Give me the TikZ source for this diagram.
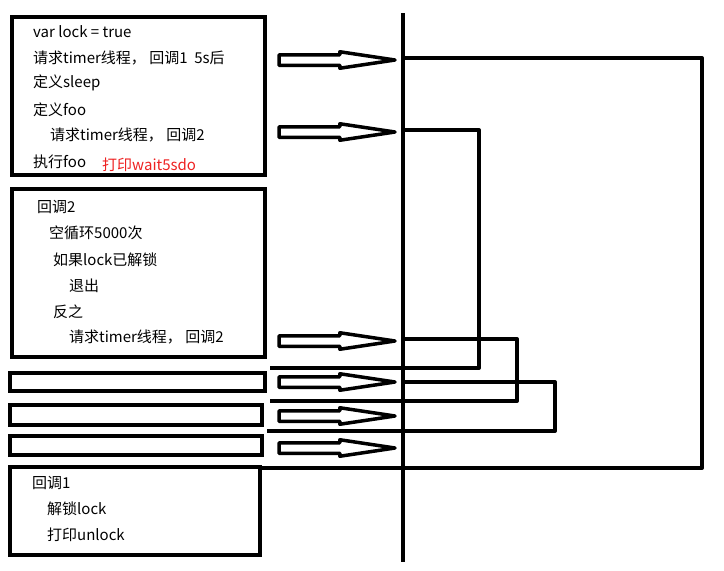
\documentclass[tikz,border=0pt]{standalone}
\usepackage{fontspec}
\setmainfont{Noto Sans CJK SC}
\usepackage{xcolor}
\usepackage{tikz}
\usetikzlibrary{shapes.arrows}
\definecolor{printred}{RGB}{238,34,34}

\begin{document}
\begin{tikzpicture}[x=1pt, y=-1pt, every node/.style={font=\fontsize{15}{17}\selectfont},
    box/.style={draw, line width=4.5pt, outer sep=0pt, inner sep=0pt, anchor=north west},
    txt/.style={anchor=west, inner sep=0pt},
    req/.style={single arrow, draw, fill=white, line width=3.5pt, line join=round, anchor=tail,
        outer sep=0pt, inner xsep=0pt, inner ysep=3.5pt, minimum height=116pt,
        single arrow head extend=3pt, single arrow tip angle=17},
    wire/.style={line width=4pt, line join=round}]
            \useasboundingbox (0,0) rectangle (724,571);

            % Main script
            \node[box, minimum width=253pt, minimum height=158pt] (main) at (12,17) {};
            \node[txt] (m1) at (33,32) {var lock = true};
            \node[txt] (m2) at (33,58) {请求timer线程， 回调1 \ 5s后};
            \node[txt] (m3) at (33,83) {定义sleep};
            \node[txt] (m4) at (33,110) {定义foo};
            \node[txt] (m5) at (50,135) {请求timer线程， 回调2};
            \node[txt] (m6) at (33,162) {执行foo};
            \node[txt, text=printred] (m7) at (102,165) {打印wait5sdo};

            % Callback 2
            \node[box, minimum width=253pt, minimum height=168pt] (cbtwo) at (12,189) {};
            \node[txt] (c1) at (37,207) {回调2};
            \node[txt] (c2) at (49,233) {空循环5000次};
            \node[txt] (c3) at (53,260) {如果lock已解锁};
            \node[txt] (c4) at (69,286) {退出};
            \node[txt] (c5) at (53,312) {反之};
            \node[txt] (c6) at (69,337) {请求timer线程， 回调2};

            % Repeated runs of callback 2
            \node[box, minimum width=255pt, minimum height=18pt] (runa) at (10,373) {};
            \node[box, minimum width=252pt, minimum height=20pt] (runb) at (10,405) {};
            \node[box, minimum width=252pt, minimum height=19pt] (runc) at (10,436) {};

            % Callback 1
            \node[box, minimum width=250pt, minimum height=88pt] (cbone) at (10,467) {};
            \node[txt] (d1) at (32,483) {回调1};
            \node[txt] (d2) at (47,509) {解锁lock};
            \node[txt] (d3) at (47,535) {打印unlock};

            % Requests to the timer thread
            \node[req] (r1) at (279,60) {};
            \node[req] (r2) at (279,132) {};
            \node[req] (r3) at (279,341) {};
            \node[req] (r4) at (279,382) {};
            \node[req] (r5) at (279,416) {};
            \node[req] (r6) at (279,448) {};

            % Timer thread
            \coordinate (ttop) at (403,13);
            \coordinate (tbot) at (403,562);
            \draw[wire] (ttop) -- (tbot);

            % Callbacks coming back
            \coordinate (s1) at (403,58);
            \coordinate (k1) at (702,468);
            \coordinate (e1) at (262,468);
            \draw[wire] (s1) -| (k1) -- (e1);

            \coordinate (s2) at (403,130);
            \coordinate (k2) at (479,368);
            \coordinate (e2) at (270,368);
            \draw[wire] (s2) -| (k2) -- (e2);

            \coordinate (s3) at (403,339);
            \coordinate (k3) at (517,401);
            \coordinate (e3) at (270,401);
            \draw[wire] (s3) -| (k3) -- (e3);

            \coordinate (s4) at (403,382);
            \coordinate (k4) at (555,431);
            \coordinate (e4) at (267,431);
            \draw[wire] (s4) -| (k4) -- (e4);
        \end{tikzpicture}
\end{document}
